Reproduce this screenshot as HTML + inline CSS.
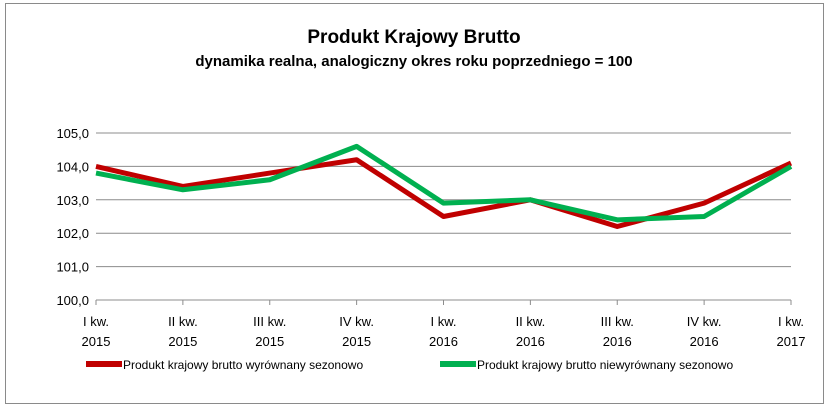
<!DOCTYPE html>
<html><head><meta charset="utf-8"><style>
body{margin:0;background:#fff;}
svg text{font-family:"Liberation Sans",sans-serif;fill:#000;}
</style></head><body>
<svg width="829" height="410" viewBox="0 0 829 410" xmlns="http://www.w3.org/2000/svg">
<rect x="5.5" y="3.5" width="818" height="400" fill="#fff" stroke="#8a8a8a"/>
<text x="414" y="43" text-anchor="middle" font-size="19" font-weight="bold">Produkt Krajowy Brutto</text>
<text x="414" y="66" text-anchor="middle" font-size="15" font-weight="bold">dynamika realna, analogiczny okres roku poprzedniego = 100</text>
<g id="grid"></g><g id="series"></g><g id="axes"></g>
<g>
<rect x="86" y="361" width="36" height="6" fill="#c00000"/>
<text x="123" y="369" font-size="12">Produkt krajowy brutto wyrównany sezonowo</text>
<rect x="440" y="361" width="36" height="6" fill="#00b050"/>
<text x="477" y="369" font-size="12">Produkt krajowy brutto niewyrównany sezonowo</text>
</g>
</svg>
<script>
const categoriesLine1=["I kw.","II kw.","III kw.","IV kw.","I kw.","II kw.","III kw.","IV kw.","I kw."];
const categoriesLine2=["2015","2015","2015","2015","2016","2016","2016","2016","2017"];
const seasonallyAdjusted=[104.0,103.4,103.8,104.2,102.5,103.0,102.2,102.9,104.1];
const notAdjusted=[103.8,103.3,103.6,104.6,102.9,103.0,102.4,102.5,104.0];
const yTicks=[100,101,102,103,104,105];
const yTickLabels=["100,0","101,0","102,0","103,0","104,0","105,0"];
const NS="http://www.w3.org/2000/svg";
const x0=96,x1=791,yTop=133,yBot=300,yMin=100,yMax=105;
const xs=i=>x0+(x1-x0)*i/(categoriesLine1.length-1);
const ys=v=>yBot-(v-yMin)/(yMax-yMin)*(yBot-yTop);
function mk(tag,attrs,parent,txt){const e=document.createElementNS(NS,tag);for(const k in attrs)e.setAttribute(k,attrs[k]);if(txt!==undefined)e.textContent=txt;document.getElementById(parent).appendChild(e);return e;}
yTicks.forEach((t,i)=>{
 const y=ys(t);
 if(i>0){const g=mk('line',{x1:x0,x2:x1,y1:y,y2:y,stroke:'#8c8c8c','stroke-width':1},'grid');
 
 }
 const l=mk('text',{x:x0-7,y:y+5,'text-anchor':'end','font-size':13},'axes',yTickLabels[i]);
 
 
});
const ax=mk('line',{x1:x0,x2:x1,y1:yBot,y2:yBot,stroke:'#8c8c8c'},'axes');


categoriesLine1.forEach((c,i)=>{
 const x=xs(i);
 const tk=mk('line',{x1:x,x2:x,y1:yBot,y2:yBot+5,stroke:'#8c8c8c'},'axes');
 
 
 const t=mk('text',{x:x,y:326,'text-anchor':'middle','font-size':13},'axes',c);
 
 
 const t2=mk('text',{x:x,y:346,'text-anchor':'middle','font-size':13},'axes',categoriesLine2[i]);
 
 
});
function line(data,color,name){
 const p=mk('polyline',{points:data.map((v,i)=>xs(i)+','+ys(v)).join(' '),fill:'none',stroke:color,'stroke-width':5,'stroke-linejoin':'round'},'series');
 
 
}
line(seasonallyAdjusted,'#c00000','line-seasonally-adjusted');
line(notAdjusted,'#00b050','line-not-adjusted');
</script>
</body></html>
